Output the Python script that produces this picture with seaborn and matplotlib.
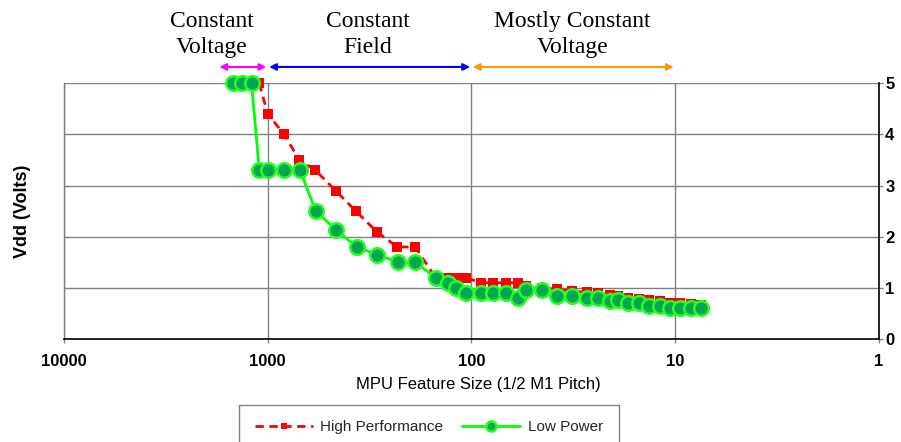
import matplotlib
matplotlib.use("Agg")
import matplotlib.pyplot as plt
import matplotlib.transforms as mtransforms
import seaborn as sns
import pandas as pd

# ---- data ----
hp_x = [1100, 1000, 830, 700, 583, 464, 369, 292, 231, 189, 150, 130, 119, 106,
        90, 78, 68, 59, 54, 45, 38, 32, 27, 24, 21, 19, 17, 15, 13.4, 11.9,
        10.6, 9.5, 8.4, 7.5]
hp_y = [5.0, 4.4, 4.0, 3.5, 3.3, 2.9, 2.5, 2.1, 1.8, 1.8, 1.2, 1.2, 1.2, 1.2,
        1.1, 1.1, 1.1, 1.1, 1.03, 1.0, 0.97, 0.94, 0.91, 0.89, 0.86, 0.84, 0.81,
        0.79, 0.76, 0.74, 0.71, 0.70, 0.68, 0.66]
lp_x = [1480, 1330, 1200, 1100, 1000, 830, 695, 580, 460, 366, 290, 229, 189,
        150, 130, 119, 106, 90, 78, 68, 59, 54, 45, 38, 32, 27, 24, 21, 19, 17,
        15, 13.4, 11.9, 10.6, 9.5, 8.4, 7.5]
lp_y = [5, 5, 5, 3.3, 3.3, 3.3, 3.3, 2.5, 2.13, 1.8, 1.65, 1.5, 1.5, 1.2, 1.1,
        1.0, 0.9, 0.9, 0.9, 0.9, 0.8, 0.96, 0.96, 0.85, 0.85, 0.81, 0.81, 0.75,
        0.76, 0.7, 0.7, 0.65, 0.65, 0.6, 0.6, 0.6, 0.6]
series_names = ["High Performance", "Low Power"]
x_ticks = [10000, 1000, 100, 10, 1]
x_tick_labels = ["10000", "1000", "100", "10", "1"]
y_ticks = [0, 1, 2, 3, 4, 5]
regions = [("Constant\nVoltage", 1884, 1755, 1000, "#FF00FF"),
           ("Constant\nField", 322, 1000, 100, "#0000FF"),
           ("Mostly Constant\nVoltage", 32, 100, 10, "#FF9900")]

sns.set_theme(style="white")
plt.rcParams["font.family"] = ["Liberation Sans", "DejaVu Sans"]

fig = plt.figure(figsize=(9.01, 4.42), dpi=100)
ax = fig.add_axes([0.071, 0.233, 0.9045, 0.5785])
ax.set_xscale("log")

df_hp = pd.DataFrame({"x": hp_x, "y": hp_y})
df_lp = pd.DataFrame({"x": lp_x, "y": lp_y})

sns.lineplot(data=df_hp, x="x", y="y", ax=ax, sort=False, estimator=None,
             color="#FF0000", lw=2, linestyle=(0, (3, 2)), marker="s",
             markersize=6.8, markeredgewidth=0, markerfacecolor="#FF0000",
             label=series_names[0], zorder=3, clip_on=False)
sns.lineplot(data=df_lp, x="x", y="y", ax=ax, sort=False, estimator=None,
             color="#00FF00", lw=2, marker="o", markersize=10.5,
             markeredgewidth=1.8, markeredgecolor="#22FF22",
             markerfacecolor="#00A651", label=series_names[1], zorder=4,
             clip_on=False)

ax.set_xlim(10000, 1)
ax.set_ylim(0, 5)
ax.set_xticks(x_ticks)
ax.set_xticklabels(x_tick_labels)
ax.minorticks_off()
ax.set_yticks(y_ticks)
ax.yaxis.tick_right()
ax.tick_params(axis="y", which="both", right=True, left=False, direction="out",
               length=3, width=1, color="#808080", pad=1.5, labelsize=12)
ax.tick_params(axis="x", bottom=True, direction="out", length=3, width=1,
               color="#808080", pad=8, labelsize=12)
for lab in ax.get_xticklabels() + ax.get_yticklabels():
    lab.set_fontweight("bold")
    lab.set_color("black")

ax.grid(True, axis="both", color="#808080", lw=1)
ax.set_axisbelow(True)
for s in ["left", "top"]:
    ax.spines[s].set_color("#808080")
    ax.spines[s].set_linewidth(1)
for s in ["right", "bottom"]:
    ax.spines[s].set_color("black")
    ax.spines[s].set_linewidth(1.2)
ax.spines["top"].set_visible(False)

ax.set_ylabel("Vdd (Volts)", fontsize=13, fontweight="bold", color="black")
ax.yaxis.set_label_position("left")
ax.yaxis.set_label_coords(-0.040, 0.5)
ax.set_xlabel("MPU Feature Size (1/2 M1 Pitch)", fontsize=12, color="black")
ax.xaxis.set_label_coords(0.508, -0.148)

trans = mtransforms.blended_transform_factory(ax.transData, ax.transAxes)
for text, tx, x0, x1, col in regions:
    ax.text(tx, 1.19, text, transform=trans, ha="center", va="center",
            fontsize=17, family=["Liberation Serif", "DejaVu Serif"],
            linespacing=1.3, color="black")
    ax.annotate("", xy=(x1, 1.064), xytext=(x0, 1.064), xycoords=trans,
                textcoords=trans, annotation_clip=False,
                arrowprops=dict(arrowstyle="<|-|>", color=col, lw=1.5,
                                mutation_scale=10, shrinkA=1, shrinkB=1))

handles, labels = ax.get_legend_handles_labels()
ax.get_legend().remove()
leg = fig.legend(handles, labels, loc="upper center",
                 bbox_to_anchor=(0.476, 0.084), ncol=2, fontsize=11,
                 frameon=True, fancybox=False, framealpha=1,
                 edgecolor="#808080", handlelength=3.8, columnspacing=1.25,
                 borderpad=1.0, borderaxespad=0, handletextpad=0.5,
                 markerscale=0.7)
leg.get_frame().set_linewidth(1)

fig.savefig("out.png", dpi=100)
